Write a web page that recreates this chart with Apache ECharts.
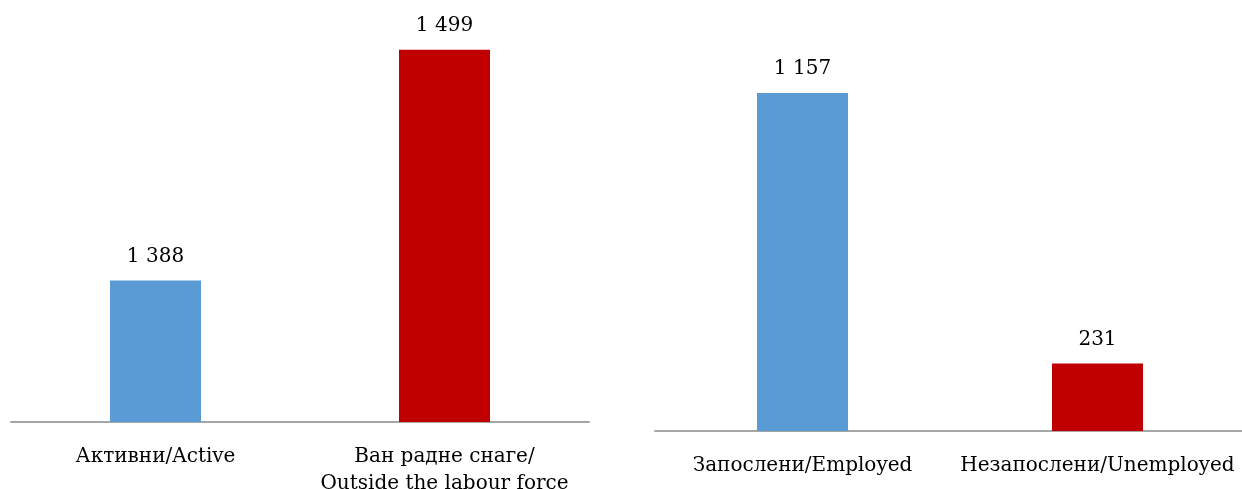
<!DOCTYPE html>
<html>
<head>
<meta charset="utf-8">
<script src="https://cdn.jsdelivr.net/npm/echarts@6/dist/echarts.min.js"></script>
<style>
html,body{margin:0;padding:0;background:#fff;}
#chart{width:1242px;height:489px;}
</style>
</head>
<body>
<div id="chart"></div>
<script>
const leftCategories = ['Активни/Active', 'Ван радне снаге/\nOutside the labour force'];
const leftValues = [1388, 1499];
const rightCategories = ['Запослени/Employed', 'Незапослени/Unemployed'];
const rightValues = [1157, 231];
const barColors = ['#5b9bd5', '#c00000'];

const FONT = 'DejaVu Serif';
const fmt = v => String(v).replace(/\B(?=(\d{3})+(?!\d))/g, ' ');

function seriesData(values) {
  return values.map((v, i) => ({ value: v, itemStyle: { color: barColors[i] } }));
}
const axisLabel = { color: '#000', fontFamily: FONT, fontSize: 20, interval: 0, margin: 21, lineHeight: 27 };
const axisLine = { show: true, lineStyle: { color: '#a6a6a6', width: 2 } };
const valueLabel = { show: true, position: 'top', distance: 14, color: '#000', fontFamily: FONT, fontSize: 20, formatter: p => fmt(p.value) };

const chart = echarts.init(document.getElementById('chart'), null, { renderer: 'canvas' });
chart.setOption({
  animation: false,
  grid: [
    { left: 11, right: 653, top: 6, bottom: 67, containLabel: false, outerBoundsMode: 'none' },
    { left: 655, right: -3, top: 22, bottom: 58, containLabel: false, outerBoundsMode: 'none' }
  ],
  xAxis: [
    { type: 'category', gridIndex: 0, data: leftCategories, axisTick: { show: false }, axisLine, axisLabel },
    { type: 'category', gridIndex: 1, data: rightCategories, axisTick: { show: false }, axisLine, axisLabel }
  ],
  yAxis: [
    { type: 'value', gridIndex: 0, min: 1320, max: 1520, show: false },
    { type: 'value', gridIndex: 1, min: 0, max: 1400, show: false }
  ],
  series: [
    { type: 'bar', xAxisIndex: 0, yAxisIndex: 0, barWidth: 91, data: seriesData(leftValues), label: valueLabel },
    { type: 'bar', xAxisIndex: 1, yAxisIndex: 1, barWidth: 91, data: seriesData(rightValues), label: valueLabel }
  ]
});
</script>
</body>
</html>
